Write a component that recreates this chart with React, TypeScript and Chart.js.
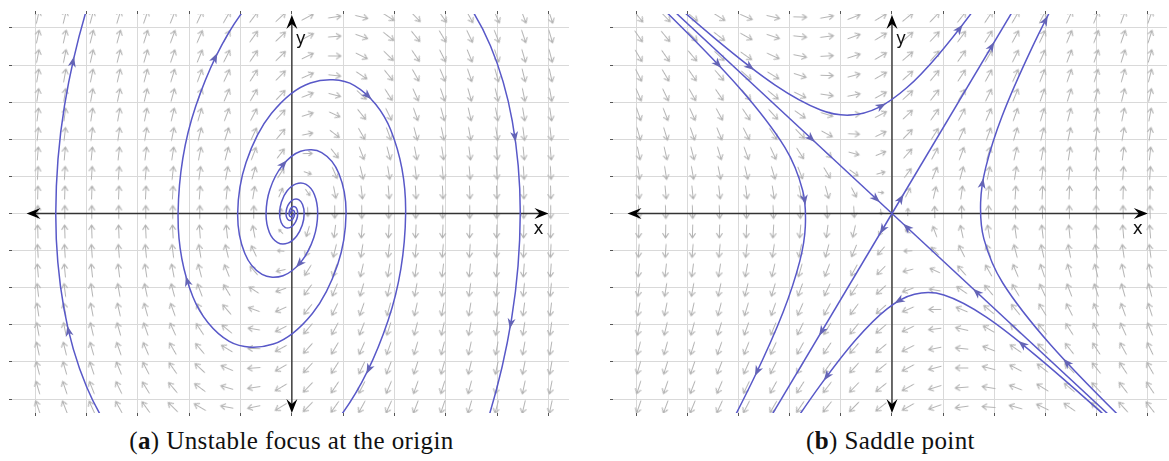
import React, { useEffect, useRef } from "react";
import { Chart, registerables } from "chart.js";

Chart.register(...registerables);

type Pt = [number, number];

// ---------- axes / grid ----------
const GRID_TICKS = [-5, -4, -3, -2, -1, 0, 1, 2, 3, 4, 5];
const LEFT_X_RANGE = [-5.453, 5.4];
const RIGHT_X_RANGE = [-5.453, 5.375];
const Y_RANGE = [-5.377, 5.377];
const AXIS_X_EXTENT = [-5.17, 5.0];
const AXIS_Y_EXTENT = [-5.38, 5.35];

// ---------- direction-field sample positions ----------
const FIELD_X = [-4.95, -4.424, -3.898, -3.372, -2.846, -2.32, -1.794, -1.268, -0.742, -0.216, 0.31, 0.836, 1.362, 1.888, 2.414, 2.94, 3.466, 3.992, 4.518, 5.044];
const FIELD_Y = [5.296, 4.77, 4.245, 3.72, 3.194, 2.668, 2.143, 1.617, 1.092, 0.566, 0.04, -0.485, -1.01, -1.536, -2.062, -2.587, -3.113, -3.639, -4.164, -4.69, -5.216];

// linear systems: [a, b, c, d] for x' = a x + b y, y' = c x + d y
const FOCUS_MATRIX = [0, 1, -5.49, 1.076];
const SADDLE_MATRIX = [-0.03, 0.446, 1.318, 0.43];

// ---------- (a) unstable focus trajectories ----------
const SPIRAL_A: Pt[] = [
  [0.026, 0], [0.022, -0.034], [0.01, -0.066], [-0.009, -0.086], [-0.03, -0.085], [-0.047, -0.055],
  [-0.054, 0], [-0.046, 0.071], [-0.021, 0.139], [0.019, 0.181], [0.063, 0.178], [0.099, 0.116],
  [0.114, 0], [0.097, -0.149], [0.043, -0.291], [-0.039, -0.381], [-0.132, -0.373], [-0.208, -0.244],
  [-0.24, 0], [-0.203, 0.312], [-0.091, 0.611], [0.082, 0.799], [0.277, 0.783], [0.438, 0.511],
  [0.503, 0], [0.426, -0.655], [0.19, -1.283], [-0.172, -1.676], [-0.581, -1.643], [-0.918, -1.073],
  [-1.056, 0], [-0.893, 1.374], [-0.4, 2.693], [0.361, 3.519], [1.22, 3.448], [1.927, 2.252],
  [2.217, 0], [1.875, -2.884], [0.839, -5.652], [-0.758, -7.385],
];
const SPIRAL_A_ARROWS = [26.15, 34.3, 37.45];

const SPIRAL_B: Pt[] = [
  [-0.026, 0], [-0.022, 0.034], [-0.01, 0.066], [0.009, 0.086], [0.03, 0.085], [0.047, 0.055],
  [0.054, 0], [0.046, -0.071], [0.021, -0.139], [-0.019, -0.181], [-0.063, -0.178], [-0.099, -0.116],
  [-0.114, 0], [-0.097, 0.149], [-0.043, 0.291], [0.039, 0.381], [0.132, 0.373], [0.208, 0.244],
  [0.24, 0], [0.203, -0.312], [0.091, -0.611], [-0.082, -0.799], [-0.277, -0.783], [-0.438, -0.511],
  [-0.503, 0], [-0.426, 0.655], [-0.19, 1.283], [0.172, 1.676], [0.581, 1.643], [0.918, 1.073],
  [1.056, 0], [0.893, -1.374], [0.4, -2.693], [-0.361, -3.519], [-1.22, -3.448], [-1.927, -2.252],
  [-2.217, 0], [-1.875, 2.884], [-0.839, 5.652], [0.758, 7.385],
];
const SPIRAL_B_ARROWS = [26.1, 35.2, 37.45];

const OUTER_RIGHT: Pt[] = [[2.448, 6.922], [3.231, 6.012], [3.869, 4.522], [4.295, 2.49], [4.45, 0], [4.283, -2.818], [3.765, -5.789], [2.893, -8.71]];
const OUTER_RIGHT_ARROWS = [3.17, 5.05];
const OUTER_LEFT: Pt[] = [[-2.53, -7.15], [-3.34, -6.21], [-4.0, -4.67], [-4.44, -2.57], [-4.6, 0], [-4.43, 2.91], [-3.89, 5.98], [-2.99, 9.0]];
const OUTER_LEFT_ARROWS = [2.73, 5.38];

// ---------- (b) saddle trajectories ----------
const LEFT_HYPERBOLA: Pt[] = [[-6.6, 8.34], [-4.395, 5.41], [-2.984, 3.389], [-2.094, 1.782], [-1.746, 0.619], [-1.694, -0.345], [-1.802, -1.283], [-2.129, -2.66], [-2.7, -4.44], [-3.6, -6.88]];
const LEFT_HYPERBOLA_ARROWS = [1.7, 4.27, 7.9];
const TOP_HYPERBOLA: Pt[] = [[-5.34, 6.98], [-3.469, 4.728], [-2.284, 3.462], [-1.394, 2.79], [-0.81, 2.653], [-0.267, 2.854], [0.293, 3.395], [0.888, 4.248], [1.6, 5.49], [2.38, 7.006]];
const TOP_HYPERBOLA_ARROWS = [1.6, 5.1, 7.6];
const RIGHT_HYPERBOLA: Pt[] = [[6.86, -8.67], [4.56, -5.62], [3.095, -3.53], [2.165, -1.873], [1.796, -0.683], [1.732, 0.296], [1.833, 1.244], [2.153, 2.629], [2.719, 4.418], [3.431, 6.378]];
const RIGHT_HYPERBOLA_ARROWS = [1.78, 5.55, 8.4];
const BOTTOM_HYPERBOLA: Pt[] = [[6.815, -8.78], [4.478, -5.84], [2.913, -3.944], [1.844, -2.791], [1.014, -2.196], [0.439, -2.177], [-0.096, -2.569], [-0.707, -3.403], [-1.414, -4.653], [-2.29, -6.403]];
const BOTTOM_HYPERBOLA_ARROWS = [2.35, 5.55, 7.8];
const STABLE_UPPER: Pt[] = [[-4.6, 5.89], [0, 0]];
const STABLE_UPPER_ARROWS = [0.657, 0.933];
const STABLE_LOWER: Pt[] = [[4.6, -5.89], [0, 0]];
const STABLE_LOWER_ARROWS = [0.64, 0.937];
const UNSTABLE_UPPER: Pt[] = [[0, 0], [2.5, 5.78]];
const UNSTABLE_UPPER_ARROWS = [0.07, 0.78];
const UNSTABLE_LOWER: Pt[] = [[0, 0], [-2.5, -5.78]];
const UNSTABLE_LOWER_ARROWS = [0.075, 0.55];

const CAPTION_A_TAG = "a";
const CAPTION_A_TEXT = " Unstable focus at the origin";
const CAPTION_B_TAG = "b";
const CAPTION_B_TEXT = " Saddle point";

// ---------- styles ----------
const GRID_COLOR = "#d9d9d9";
const TICK_COLOR = "#555555";
const AXIS_COLOR = "#333333";
const TRAJ_COLOR = "rgb(88,88,200)";
const TRAJ_ARROW_COLOR = "rgb(100,100,182)";
const FIELD_COLOR = "#b4b4b4";
const FIELD_MAX_LEN = 13;

interface Traj { data: Pt[]; arrows: number[]; straight?: boolean }
interface PanelSpec { xRange: number[]; matrix: number[]; trajs: Traj[]; fieldK: number; width: number; padRight: number }

const LEFT_PANEL: PanelSpec = {
  xRange: LEFT_X_RANGE,
  matrix: FOCUS_MATRIX,
  fieldK: 1.43,
  width: 580,
  padRight: 11,
  trajs: [
    { data: SPIRAL_A, arrows: SPIRAL_A_ARROWS },
    { data: SPIRAL_B, arrows: SPIRAL_B_ARROWS },
    { data: OUTER_RIGHT, arrows: OUTER_RIGHT_ARROWS },
    { data: OUTER_LEFT, arrows: OUTER_LEFT_ARROWS },
  ],
};

const RIGHT_PANEL: PanelSpec = {
  xRange: RIGHT_X_RANGE,
  matrix: SADDLE_MATRIX,
  fieldK: 0.5,
  width: 568,
  padRight: 0,
  trajs: [
    { data: LEFT_HYPERBOLA, arrows: LEFT_HYPERBOLA_ARROWS },
    { data: TOP_HYPERBOLA, arrows: TOP_HYPERBOLA_ARROWS },
    { data: RIGHT_HYPERBOLA, arrows: RIGHT_HYPERBOLA_ARROWS },
    { data: BOTTOM_HYPERBOLA, arrows: BOTTOM_HYPERBOLA_ARROWS },
    { data: STABLE_UPPER, arrows: STABLE_UPPER_ARROWS, straight: true },
    { data: STABLE_LOWER, arrows: STABLE_LOWER_ARROWS, straight: true },
    { data: UNSTABLE_UPPER, arrows: UNSTABLE_UPPER_ARROWS, straight: true },
    { data: UNSTABLE_LOWER, arrows: UNSTABLE_LOWER_ARROWS, straight: true },
  ],
};

const arrowCache = new Map<number, HTMLCanvasElement>();
function fieldArrowImage(len: number): HTMLCanvasElement {
  const key = Math.max(1, Math.round(len * 2) / 2);
  const hit = arrowCache.get(key);
  if (hit) return hit;
  const c = document.createElement("canvas");
  c.width = Math.ceil(key + 6);
  c.height = 15;
  const g = c.getContext("2d")!;
  const x0 = (c.width - key) / 2;
  const x1 = x0 + key;
  const y = 7.5;
  const head = Math.min(5.2, key * 0.45);
  const ang = (33 * Math.PI) / 180;
  g.strokeStyle = FIELD_COLOR;
  g.lineWidth = 1.1;
  g.lineCap = "round";
  g.lineJoin = "round";
  g.beginPath();
  g.moveTo(x0, y);
  g.lineTo(x1, y);
  g.moveTo(x1 - head * Math.cos(ang), y - head * Math.sin(ang));
  g.lineTo(x1, y);
  g.lineTo(x1 - head * Math.cos(ang), y + head * Math.sin(ang));
  g.stroke();
  arrowCache.set(key, c);
  return c;
}

function stealth(ctx: CanvasRenderingContext2D, tx: number, ty: number, dx: number, dy: number, len: number, halfW: number, notch: number, color: string) {
  const n = Math.hypot(dx, dy) || 1;
  const ux = dx / n, uy = dy / n;
  const px = -uy, py = ux;
  const bx = tx - ux * len, by = ty - uy * len;
  const nx = tx - ux * (len - notch), ny = ty - uy * (len - notch);
  ctx.beginPath();
  ctx.moveTo(tx, ty);
  ctx.lineTo(bx + px * halfW, by + py * halfW);
  ctx.lineTo(nx, ny);
  ctx.lineTo(bx - px * halfW, by - py * halfW);
  ctx.closePath();
  ctx.fillStyle = color;
  ctx.fill();
}

function pointOnCurve(pts: any[], f: number) {
  let i = Math.floor(f);
  if (i >= pts.length - 1) i = pts.length - 2;
  const u = f - i;
  const p = pts[i], q = pts[i + 1];
  if (p.cp2x !== undefined && q.cp1x !== undefined && p.cp2x !== null) {
    const P0x = p.x, P0y = p.y, P1x = p.cp2x, P1y = p.cp2y, P2x = q.cp1x, P2y = q.cp1y, P3x = q.x, P3y = q.y;
    const a = 1 - u;
    const x = a * a * a * P0x + 3 * a * a * u * P1x + 3 * a * u * u * P2x + u * u * u * P3x;
    const y = a * a * a * P0y + 3 * a * a * u * P1y + 3 * a * u * u * P2y + u * u * u * P3y;
    let dx = 3 * a * a * (P1x - P0x) + 6 * a * u * (P2x - P1x) + 3 * u * u * (P3x - P2x);
    let dy = 3 * a * a * (P1y - P0y) + 6 * a * u * (P2y - P1y) + 3 * u * u * (P3y - P2y);
    if (Math.hypot(dx, dy) < 1e-6) { dx = q.x - p.x; dy = q.y - p.y; }
    return { x, y, dx, dy };
  }
  return { x: p.x + (q.x - p.x) * u, y: p.y + (q.y - p.y) * u, dx: q.x - p.x, dy: q.y - p.y };
}

function makeChart(canvas: HTMLCanvasElement, spec: PanelSpec) {
  const m = spec.matrix;
  const vel = (x: number, y: number) => [m[0] * x + m[1] * y, m[2] * x + m[3] * y];
  const field: { x: number; y: number }[] = [];
  for (const x of FIELD_X) for (const y of FIELD_Y) field.push({ x, y });
  const fieldIndex = spec.trajs.length;

  const setTicks = (s: any) => { s.ticks = GRID_TICKS.map((v) => ({ value: v })); };
  const baseScale = {
    type: "linear" as const,
    border: { display: false },
    ticks: { display: false },
    afterBuildTicks: setTicks,
  };

  const datasets: any[] = spec.trajs.map((t) => ({
    type: "line",
    data: t.data.map(([x, y]) => ({ x, y })),
    borderColor: TRAJ_COLOR,
    borderWidth: 1.5,
    pointRadius: 0,
    pointHoverRadius: 0,
    tension: t.straight ? 0 : 0.35,
    capBezierPoints: false,
    fill: false,
    order: 1,
  }));
  datasets.push({
    type: "line",
    data: field,
    showLine: false,
    order: 10,
    pointRadius: 1,
    pointHoverRadius: 1,
    pointStyle: (c: any) => {
      const r = c.raw;
      if (!r) return "circle";
      const [vx, vy] = vel(r.x, r.y);
      const sp = Math.hypot(vx, vy);
      return fieldArrowImage(FIELD_MAX_LEN * (1 - Math.exp(-sp / spec.fieldK)));
    },
    rotation: (c: any) => {
      const r = c.raw;
      if (!r) return 0;
      const [vx, vy] = vel(r.x, r.y);
      const xs = c.chart.scales.x, ys = c.chart.scales.y;
      const sx = xs.getPixelForValue(1) - xs.getPixelForValue(0);
      const sy = ys.getPixelForValue(1) - ys.getPixelForValue(0);
      return (Math.atan2(vy * sy, vx * sx) * 180) / Math.PI;
    },
  });

  const decor = {
    id: "phaseDecor",
    afterDatasetDraw(chart: any, args: any) {
      if (args.index !== fieldIndex) return;
      const ctx: CanvasRenderingContext2D = chart.ctx;
      const xs = chart.scales.x, ys = chart.scales.y;
      const x0 = xs.getPixelForValue(0), y0 = ys.getPixelForValue(0);
      const xa = xs.getPixelForValue(AXIS_X_EXTENT[0]), xb = xs.getPixelForValue(AXIS_X_EXTENT[1]);
      const ya = ys.getPixelForValue(AXIS_Y_EXTENT[0]), yb = ys.getPixelForValue(AXIS_Y_EXTENT[1]);
      ctx.save();
      ctx.strokeStyle = AXIS_COLOR;
      ctx.lineWidth = 1.4;
      ctx.beginPath();
      ctx.moveTo(xa + 6, y0); ctx.lineTo(xb - 6, y0);
      ctx.moveTo(x0, yb + 6); ctx.lineTo(x0, ya - 6);
      ctx.stroke();
      stealth(ctx, xb, y0, 1, 0, 14, 5.5, 5, "#000");
      stealth(ctx, xa, y0, -1, 0, 14, 5.5, 5, "#000");
      stealth(ctx, x0, yb, 0, -1, 14, 5.5, 5, "#000");
      stealth(ctx, x0, ya, 0, 1, 14, 5.5, 5, "#000");
      ctx.restore();
    },
    afterDatasetsDraw(chart: any) {
      const ctx: CanvasRenderingContext2D = chart.ctx;
      ctx.save();
      spec.trajs.forEach((t, i) => {
        const pts = chart.getDatasetMeta(i).data;
        for (const f of t.arrows) {
          const p = pointOnCurve(pts, f);
          const n = Math.hypot(p.dx, p.dy) || 1;
          stealth(ctx, p.x + (p.dx / n) * 5, p.y + (p.dy / n) * 5, p.dx, p.dy, 10.5, 4, 3, TRAJ_ARROW_COLOR);
        }
      });
      const xs = chart.scales.x, ys = chart.scales.y;
      const x0 = xs.getPixelForValue(0), y0 = ys.getPixelForValue(0);
      const xb = xs.getPixelForValue(AXIS_X_EXTENT[1]);
      const yb = ys.getPixelForValue(AXIS_Y_EXTENT[1]);
      ctx.fillStyle = "#111";
      ctx.font = '17px "DejaVu Sans"';
      ctx.textAlign = "center";
      ctx.textBaseline = "middle";
      ctx.fillText("y", x0 + 9, yb + 25);
      ctx.fillText("x", xb - 10, y0 + 16);
      ctx.restore();
    },
  };

  return new Chart(canvas, {
    type: "line",
    data: { datasets },
    options: {
      responsive: false,
      animation: false,
      events: [],
      layout: { padding: { left: 9, top: 11, right: spec.padRight, bottom: 9 } },
      plugins: { legend: { display: false }, tooltip: { enabled: false } },
      scales: {
        x: {
          ...baseScale,
          position: "bottom",
          min: spec.xRange[0],
          max: spec.xRange[1],
          grid: { color: GRID_COLOR, lineWidth: 1, drawTicks: true, tickLength: 3, tickColor: TICK_COLOR },
        },
        xTop: {
          ...baseScale,
          position: "top",
          min: spec.xRange[0],
          max: spec.xRange[1],
          grid: { drawOnChartArea: false, drawTicks: true, tickLength: 3, tickColor: TICK_COLOR },
        },
        y: {
          ...baseScale,
          position: "left",
          min: Y_RANGE[0],
          max: Y_RANGE[1],
          grid: { color: GRID_COLOR, lineWidth: 1, drawTicks: true, tickLength: 3, tickColor: TICK_COLOR },
        },
      } as any,
    },
    plugins: [decor],
  } as any);
}

const captionStyle = (center: number): React.CSSProperties => ({
  position: "absolute",
  left: center - 300,
  width: 600,
  top: 427,
  textAlign: "center",
  fontFamily: '"Liberation Serif", serif',
  fontSize: 25,
  letterSpacing: 0.4,
  lineHeight: "28px",
  color: "#111",
  whiteSpace: "nowrap",
});

export default function App() {
  const leftRef = useRef<HTMLCanvasElement>(null);
  const rightRef = useRef<HTMLCanvasElement>(null);
  useEffect(() => {
    const a = makeChart(leftRef.current!, LEFT_PANEL);
    const b = makeChart(rightRef.current!, RIGHT_PANEL);
    return () => { a.destroy(); b.destroy(); };
  }, []);
  return (
    <div style={{ position: "absolute", left: 0, top: 0, width: 1169, height: 461, overflow: "hidden", background: "#fff" }}>
      <canvas ref={leftRef} width={LEFT_PANEL.width} height={425} style={{ position: "absolute", left: 0, top: 0, width: LEFT_PANEL.width, height: 425 }} />
      <canvas ref={rightRef} width={RIGHT_PANEL.width} height={425} style={{ position: "absolute", left: 601, top: 0, width: RIGHT_PANEL.width, height: 425 }} />
      <div style={captionStyle(291.5)}>(<b>{CAPTION_A_TAG}</b>){CAPTION_A_TEXT}</div>
      <div style={captionStyle(890.5)}>(<b>{CAPTION_B_TAG}</b>){CAPTION_B_TEXT}</div>
    </div>
  );
}
